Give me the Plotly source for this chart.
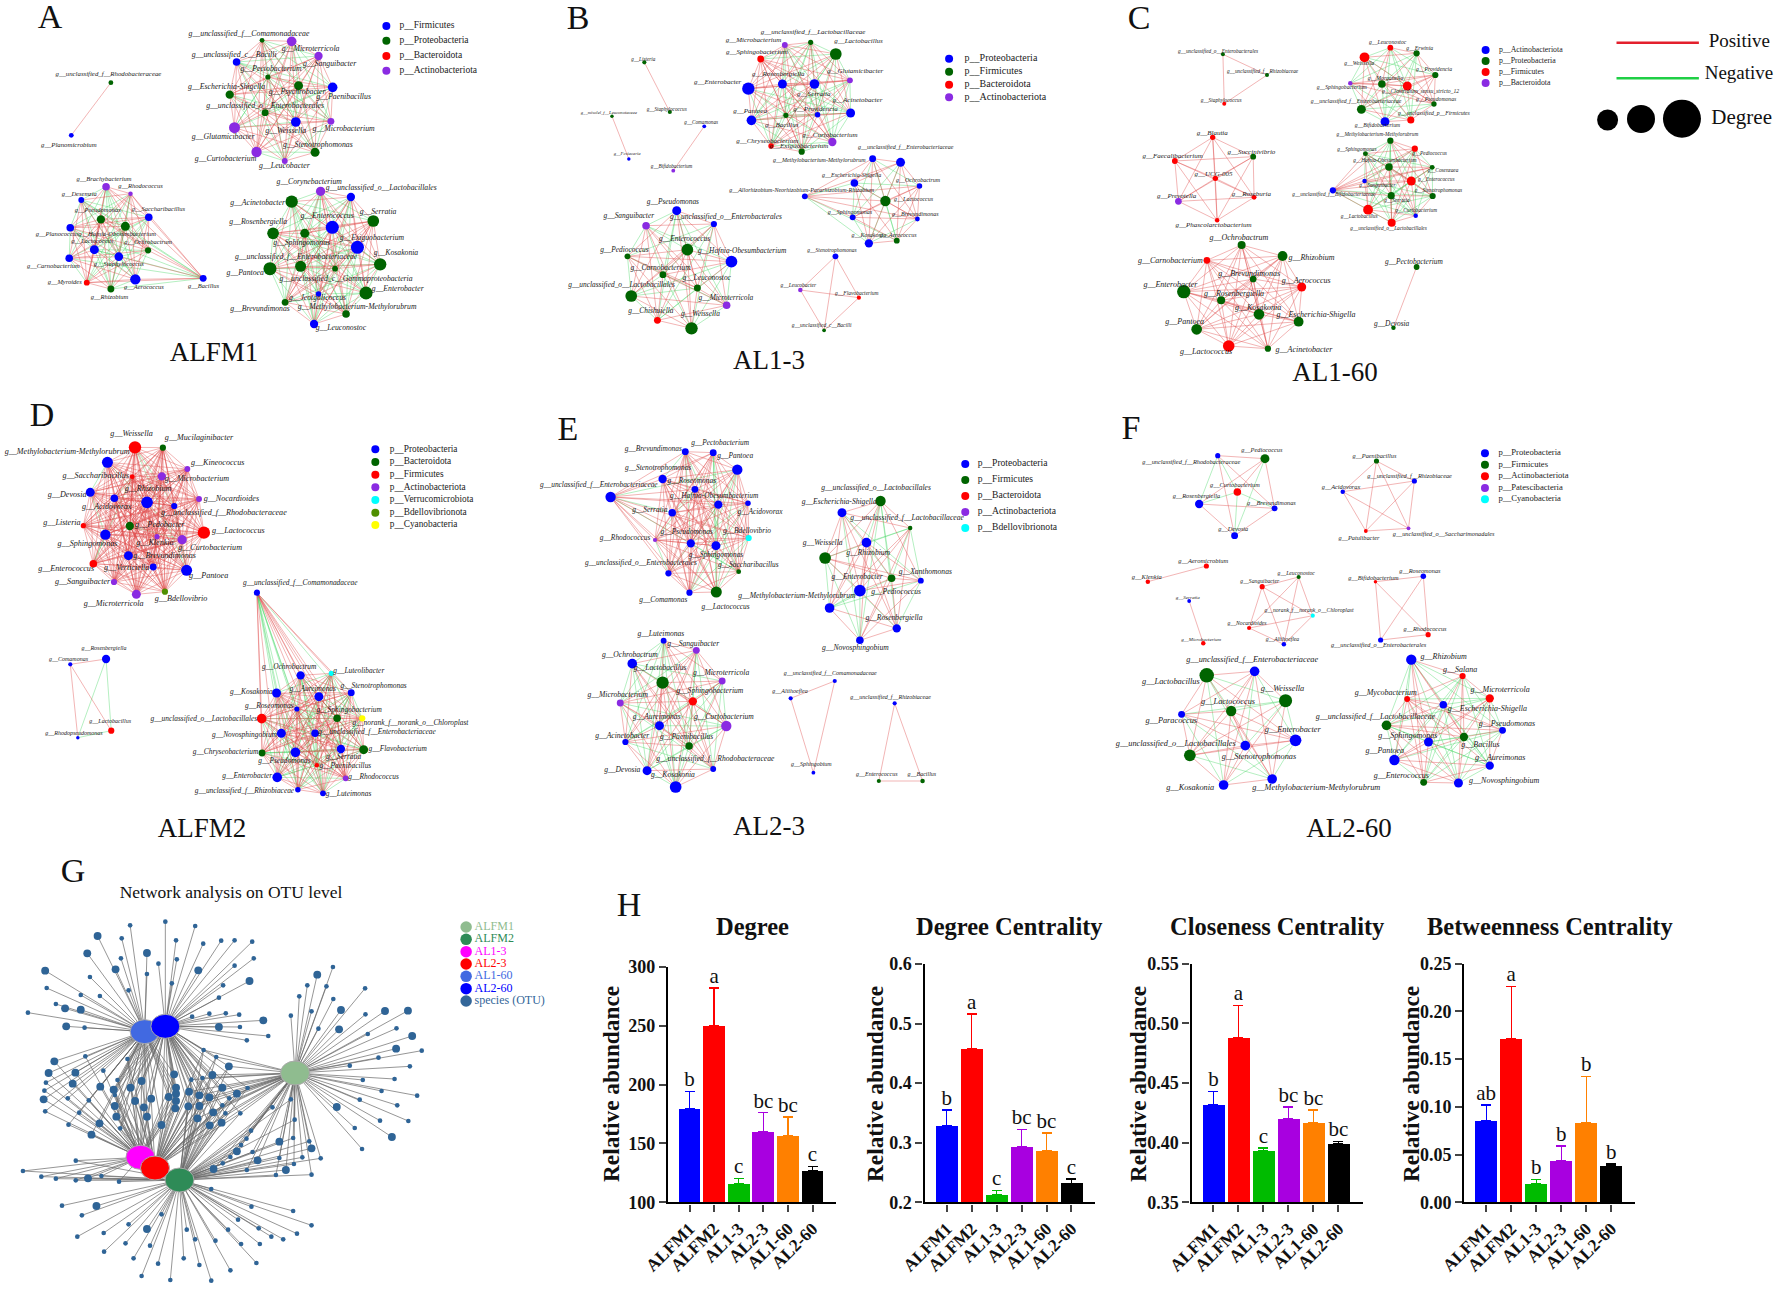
import plotly.graph_objects as go

W, H = 1778, 1292
SERIF = "Liberation Serif"
TONE = dict(b="#0000ff", g="#006400", r="#ff0000", p="#8a2be2", c="#00ffff", y="#ffff00", o="#4f8f00")

# ---- bar chart data ---------------------------------------------------
GROUPS = ["ALFM1", "ALFM2", "AL1-3", "AL2-3", "AL1-60", "AL2-60"]
BAR_COLOURS = ["#0000ff", "#ff0000", "#00bb00", "#a800e0", "#ff8000", "#000000"]
DEGREE = [179.5, 250, 116, 160, 156.5, 127]
DEGREE_TOP = [194, 282, 120, 176, 172.5, 130.5]
DEGREE_SIG = ["b", "a", "c", "bc", "bc", "c"]
DEG_CENT = [0.328, 0.457, 0.212, 0.293, 0.286, 0.232]
DEG_CENT_TOP = [0.355, 0.516, 0.22, 0.322, 0.316, 0.239]
DEG_CENT_SIG = ["b", "a", "c", "bc", "bc", "c"]
CLOSE = [0.432, 0.488, 0.393, 0.42, 0.417, 0.399]
CLOSE_TOP = [0.443, 0.515, 0.3955, 0.43, 0.4275, 0.401]
CLOSE_SIG = ["b", "a", "c", "bc", "bc", "bc"]
BETWEEN = [0.085, 0.171, 0.02, 0.044, 0.083, 0.038]
BETWEEN_TOP = [0.102, 0.226, 0.024, 0.059, 0.132, 0.04]
BETWEEN_SIG = ["ab", "a", "b", "b", "b", "b"]

# ---- network data: (genus, x, y, size, phylum, label x, label y) -------
A1 = [("unclassified_f__Rhodobacteraceae",322,248,14,"g",315,223),("Planomicrobium",207,406,14,"b",200,435)]
A2 = [("unclassified_f__Comamonadaceae",761,121,14,"g",723,102),("Microterricola",847,124,28,"p",902,146),
      ("unclassified_c__Bacilli",687,186,22,"b",680,164),("Sanguibacter",925,168,24,"p",957,192),
      ("Pectobacterium",778,231,15,"g",787,207),("Psychrobacter",867,257,26,"g",863,277),
      ("Paenibacillus",966,262,28,"b",998,290),("Escherichia-Shigella",667,284,24,"g",658,261),
      ("unclassified_o__Enterobacterales",770,338,20,"g",770,318),("Weissella",859,366,28,"b",830,393),
      ("Microbacterium",961,364,20,"p",998,386),("Glutamicibacter",681,383,32,"p",648,412),
      ("Curtobacterium",745,456,30,"p",655,476),("Leucobacter",827,483,17,"p",826,498),
      ("Stenotrophomonas",915,457,26,"g",923,434)]
A3 = [("Brachybacterium",308,560,22,"p",302,537),("Rhodococcus",379,581,13,"p",408,559),("Desemzia",236,600,17,"b",230,582),
      ("Pseudomonas",293,658,24,"g",284,631),("Saccharibacillus",432,652,22,"b",460,629),("Planococcus",204,683,22,"b",166,703),
      ("Hafnia-Obesumbacterium",364,679,26,"g",340,702),("Ochrobactrum",430,751,18,"g",430,728),("Lactococcus",274,749,26,"b",268,723),
      ("Carnobacterium",201,775,22,"b",155,798),("Staphylococcus",345,770,25,"b",345,793),("Myroides",252,848,17,"r",188,847),
      ("Rhizobium",322,867,20,"g",318,893),("Aerococcus",393,838,30,"b",418,861),("Bacillus",590,835,20,"b",591,858)]
A4 = [("Corynebacterium",931,574,27,"p",898,547),("unclassified_o__Lactobacillales",1019,591,24,"b",1107,565),
      ("Acinetobacter",847,605,36,"g",748,608),("Serratia",1084,663,34,"g",1098,635),("Enterococcus",965,682,38,"b",950,647),
      ("Rosenbergiella",793,700,34,"g",750,666),("Sphingomonas",885,700,26,"g",876,729),("Exiguobacterium",1038,742,38,"b",1080,713),
      ("Kosakonia",1104,793,36,"g",1150,760),("Pantoea",784,806,38,"g",712,818),("unclassified_f__Enterobacteriaceae",873,799,32,"g",860,770),
      ("unclassified_c__Gammaproteobacteria",973,806,17,"g",1005,836),("Enterobacter",1063,879,38,"g",1155,867),
      ("Jeotgalicoccus",925,882,16,"b",922,895),("Brevundimonas",828,907,20,"g",755,928),
      ("Methylobacterium-Methylorubrum",1005,942,22,"g",1037,920),("Leuconostoc",912,972,24,"b",990,985)]

B1a = [("Listeria",303,187,12,"g",300,178),("Staphylococcus",377,336,12,"g",368,328)]
B1b = [("misolel_f__Leuconotaceae",209,349,10,"g",200,340),("Fcsiacaria",258,477,10,"b",253,462)]
B1c = [("Comamonas",477,379,11,"b",468,369),("Bifidobacterium",387,512,11,"p",382,501)]
B2 = [("unclassified_f__Lactobacillaceae",786,127,15,"g",793,98),("Microbacterium",711,135,17,"p",620,121),
      ("Lactobacillus",859,162,34,"g",925,125),("Sphingobacterium",641,177,20,"r",630,158),("Glutamicibacter",900,241,17,"p",915,214),
      ("Rosenbergiella",704,252,26,"b",692,223),("Serratia",797,252,28,"b",795,284),("Enterobacter",605,266,36,"b",516,247),
      ("Acinetobacter",902,339,26,"b",922,302),("Pantoea",614,361,28,"b",610,335),("Bacillus",714,346,15,"g",702,376),
      ("Providencia",806,344,16,"b",800,328),("Curtobacterium",849,426,24,"p",842,405),("Chryseobacterium",671,438,16,"r",660,423),
      ("Exiguobacterium",760,455,18,"g",752,438)]
B3 = [("Methylobacterium-Methylorubrum",966,476,20,"b",811,481),("unclassified_f__Enterobacteriaceae",1047,487,26,"b",1062,442),
      ("Escherichia-Shigella",913,549,22,"b",905,527),("Ochrobactrum",1102,558,16,"b",1098,541),
      ("Allorhizobium-Neorhizobium-Pararhizobium-Rhizobium",769,589,17,"b",760,571),("Lactococcus",1003,603,30,"g",1085,597),
      ("Sphingomonas",908,652,17,"b",900,636),("Brevundimonas",1096,657,14,"b",1090,643),("Kosakonia",955,730,24,"b",955,706),
      ("Aerococcus",1036,722,17,"g",1040,706)]
B4 = [("Pseudomonas",397,632,26,"b",386,606),("unclassified_o__Enterobacterales",505,672,18,"b",540,652),("Sanguibacter",308,677,22,"p",258,649),
      ("Enterococcus",428,749,34,"g",420,716),("Hafnia-Obesumbacterium",556,785,34,"b",587,752),("Pediococcus",254,769,17,"g",245,751),
      ("Carnobacterium",357,824,20,"g",350,805),("Leuconostoc",457,864,20,"g",484,835),("unclassified_o__Lactobacillales",265,888,34,"g",237,854),
      ("Microterricola",542,916,22,"p",540,895),("Chishuiella",341,961,20,"r",322,934),("Weissella",440,985,36,"g",466,942)]
B5 = [("Stenotrophomonas",858,769,17,"b",848,752),("Leucobacter",756,870,13,"p",750,858),("Flavobacterium",926,893,12,"r",920,881),
      ("unclassified_c__Bacilli",825,991,11,"g",818,978)]

C1 = [("unclassified_o__Enterobacterales",321,163,9,"g",310,154),("unclassified_f__Rhizobiaceae",420,225,9,"g",410,216),
      ("Staphylococcus",324,311,9,"r",317,301)]
C2 = [("Leuconostoc",697,143,13,"r",691,129),("Erwinia",756,160,14,"g",763,146),("Weissella",639,172,22,"r",627,192),
      ("Providencia",798,225,14,"g",795,210),("Morganella",678,252,17,"g",686,236),("Clostridium_sensu_stricto_12",735,258,20,"r",765,276),
      ("Sphingobacterium",607,250,10,"p",588,263),("Pseudomonas",795,312,12,"g",800,300),("unclassified_f__Enterobacteriaceae",632,328,20,"g",620,304),
      ("unclassified_p__Firmicutes",743,360,16,"r",795,342),("Bifidobacterium",685,365,20,"b",668,378)]
C3 = [("Blautia",298,412,12,"r",297,399),("Faecalibacterium",213,483,13,"r",208,469),("Succinivibrio",389,470,13,"g",385,456),
      ("UCG-005",304,535,12,"r",300,522),("Prevotella",221,604,15,"p",217,588),("Roseburia",391,592,11,"r",385,582),
      ("Phascolarctobacterium",308,661,10,"r",300,676)]
C4 = [("Methylobacterium-Methylorubrum",697,422,14,"g",668,405),("Pediococcus",752,446,14,"r",785,460),("Sphingomonas",641,461,11,"g",622,449),
      ("Hafnia-Obesumbacterium",694,501,17,"g",685,483),("Cosenzaea",791,502,11,"g",815,512),("Enterococcus",744,543,20,"r",800,538),
      ("Sanguibacter",639,543,10,"b",668,556),("unclassified_f__Bifidobacteriaceae",568,571,14,"b",570,583),("Stenotrophomonas",792,588,14,"g",805,573),
      ("Serratia",699,587,16,"g",712,603),("Lactobacillus",647,629,22,"r",627,649),("Curtobacterium",754,647,10,"b",755,633),
      ("unclassified_o__Lactobacillales",700,668,18,"r",693,687)]
C5 = [("Ochrobactrum",363,735,18,"g",357,714),("Rhizobium",455,768,22,"g",520,774),("Carnobacterium",285,781,15,"r",203,784),
      ("Brevundimonas",389,837,15,"g",380,821),("Aerococcus",498,861,20,"r",508,843),("Enterobacter",233,875,30,"g",203,855),
      ("Rosenbergiella",317,901,18,"g",346,881),("Kosakonia",402,943,24,"g",400,923),("Escherichia-Shigella",491,965,22,"g",530,944),
      ("Pantoea",262,988,24,"g",235,967),("Lactococcus",334,1038,26,"r",283,1057),("Acinetobacter",422,1046,14,"g",503,1049)]
C6 = [("Pectobacterium",756,801,13,"g",750,787),("Devosia",704,983,10,"g",700,972)]

D1 = [("Weissella",392,172,36,"r",382,133),("Mucilaginibacter",473,173,18,"g",578,145),("Methylobacterium-Methylorubrum",312,217,32,"b",195,186),
      ("Kineococcus",544,237,17,"p",632,219),("Saccharibacillus",384,260,14,"r",278,258),("Microbacterium",470,259,24,"p",572,266),
      ("Devosia",262,307,26,"b",195,314),("Nocardioides",578,327,17,"p",672,327),("Acidovorax",332,325,22,"b",310,352),
      ("Rhizobium",427,337,34,"b",430,296),("unclassified_f__Rhodobacteraceae",506,348,18,"b",650,370),("Listeria",242,407,15,"r",180,400),
      ("Pedobacter",377,408,24,"g",464,405),("Lactococcus",592,428,36,"r",692,423),("Sphingomonas",306,434,30,"b",254,461),
      ("Klenkia",456,440,15,"p",450,460),("Curtobacterium",529,449,27,"p",610,475),("Brevundimonas",373,497,26,"b",478,498),
      ("Enterococcus",271,521,22,"r",192,537),("Verticiella",445,531,20,"b",368,533),("Pantoea",542,541,32,"b",606,559),
      ("Sanguibacter",331,576,18,"p",240,576),("Microterricola",396,613,26,"p",330,642),("Bdellovibrio",479,605,18,"o",526,626)]
D2 = [("Rosenbergiella",308,807,24,"b",302,776),("Comamonas",204,823,12,"b",199,807),("Lactobacillus",323,1022,18,"r",320,993),
      ("Rhodopseudomonas",226,1043,10,"b",215,1029)]
D3 = [("unclassified_f__Comamonadaceae",746,608,18,"b",872,579),("Ochrobactrum",873,856,24,"b",840,831),("Luteolibacter",962,850,15,"c",1042,842),
      ("Kosakonia",803,909,26,"b",730,907),("Stenotrophomonas",1020,908,20,"b",1085,888),("Aureimonas",926,920,26,"b",908,896),
      ("Roseomonas",862,957,15,"b",782,949),("unclassified_o__Lactobacillales",760,986,28,"r",592,986),("Sphingobacterium",979,985,22,"g",1014,961),
      ("norank_f__norank_o__Chloroplast",1052,985,18,"y",1192,1000),("Novosphingobium",817,1030,26,"b",710,1035),
      ("unclassified_f__Enterobacteriaceae",915,1030,22,"b",1095,1027),("Chryseobacterium",761,1089,20,"g",655,1086),
      ("Pseudomonas",858,1087,28,"b",826,1112),("Serratia",990,1077,24,"b",998,1100),("Flavobacterium",1056,1079,26,"g",1155,1077),
      ("Paenibacillus",920,1126,13,"r",1003,1127),("Rhodococcus",1004,1165,17,"p",1085,1161),("Enterobacter",805,1162,28,"b",718,1159),
      ("unclassified_f__Rhizobiaceae",865,1199,16,"b",710,1203),("Luteimonas",938,1210,17,"b",1012,1212)]

E1 = [("Brevundimonas",451,155,20,"b",358,148),("Pectobacterium",532,158,20,"b",552,130),("Pantoea",602,209,30,"b",596,168),
      ("Stenotrophomonas",385,237,24,"b",372,205),("Roseomonas",479,268,20,"b",470,243),("unclassified_f__Enterobacteriaceae",234,291,30,"b",200,254),
      ("Hafnia-Obesumbacterium",547,314,24,"b",535,288),("Acidovorax",633,310,16,"b",668,335),("Serratia",413,338,22,"b",348,331),
      ("Rhodococcus",363,420,12,"p",276,413),("Pseudomonas",467,430,24,"b",455,397),("Sphingomonas",540,437,26,"b",540,465),
      ("Bdellovibrio",635,414,18,"c",630,394),("Saccharibacillus",606,515,14,"g",634,495),("unclassified_o__Enterobacterales",402,520,18,"b",322,489),
      ("Comamonas",463,578,18,"b",387,601),("Lactococcus",541,576,32,"g",568,621)]
E2 = [("unclassified_o__Lactobacillales",1018,303,30,"g",1005,263),("Escherichia-Shigella",906,338,26,"b",898,305),
      ("unclassified_f__Lactobacillaceae",1104,384,13,"g",1095,354),("Rhizobium",977,428,28,"b",982,460),("Weissella",857,474,34,"g",850,429),
      ("Xanthomonas",1135,542,17,"b",1148,515),("Pediococcus",1050,535,22,"g",1063,575),("Enterobacter",958,572,34,"b",950,530),
      ("Methylobacterium-Methylorubrum",870,624,28,"b",775,589),("Rosenbergiella",1065,685,24,"b",1057,654),("Novosphingobium",958,721,22,"b",945,743)]
E3 = [("Luteimonas",388,722,17,"b",380,703),("Sanguibacter",483,751,20,"p",474,731),("Ochrobactrum",297,791,28,"b",290,766),
      ("Lactobacillus",385,848,36,"g",378,804),("Microterricola",558,843,20,"p",555,820),("Sphingobacterium",473,904,24,"r",522,872),
      ("Microbacterium",262,909,20,"p",255,886),("Aureimonas",376,977,26,"b",368,950),("Curtobacterium",570,978,30,"p",563,951),
      ("Acinetobacter",277,1026,18,"b",268,1007),("Paenibacillus",462,1038,22,"g",455,1012),("unclassified_f__Rhodobacteraceae",532,1107,17,"b",538,1076),
      ("Devosia",340,1112,26,"b",268,1110),("Kosakonia",423,1161,34,"b",415,1124)]
E4 = [("unclassified_f__Comamonadaceae",885,843,12,"b",872,821),("Aliihoeflea",757,895,12,"b",755,873),("Sphingobium",823,1118,11,"b",817,1094)]
E5 = [("unclassified_f__Rhizobiaceae",1059,910,12,"b",1047,892),("Enterococcus",1013,1143,12,"g",1007,1124),("Bacillus",1140,1143,13,"g",1138,1122)]

F1 = [("unclassified_f__Rhodobacteraceae",400,167,15,"b",323,188),("Pediococcus",537,176,26,"g",528,151),("Curtobacterium",457,276,22,"r",450,256),
      ("Rosenbergiella",346,312,24,"b",338,290),("Brevundimonas",565,325,17,"b",556,309),("Devosia",449,407,20,"b",445,388)]
F2 = [("Paenibacillus",861,183,15,"g",855,168),("unclassified_f__Rhizobiaceae",971,243,15,"b",957,228),("Acidovorax",763,275,13,"b",758,263),
      ("Patulibacter",830,393,11,"r",810,414),("unclassified_o__Saccharimonadales",954,385,11,"p",1056,404)]
F3 = [("Aeromicrobium",367,498,15,"r",358,483),("Klenkia",197,545,13,"r",194,532)]
F3b = [("Serratia",317,603,11,"b",313,594),("Microbacterium",358,730,13,"r",352,718)]
F4 = [("Leuconostoc",635,531,12,"g",628,521),("Sanguibacter",529,560,15,"r",522,544),("norank_f__norank_o__Chloroplast",676,647,12,"c",665,633),
      ("Nocardioides",491,684,12,"r",485,672),("Aliihoeflea",592,733,13,"b",588,719)]
F5 = [("Bifidobacterium",858,545,10,"r",852,534),("Roseomonas",997,529,16,"b",987,513),("Rhodococcus",1011,704,15,"r",1002,688),
      ("unclassified_o__Enterobacterales",873,720,15,"b",867,735)]
F6 = [("Lactobacillus",368,826,42,"g",264,846),("unclassified_f__Enterobacteriaceae",507,814,28,"b",500,781),("Weissella",597,902,38,"g",588,867),
      ("Lactococcus",439,933,30,"g",430,905),("Paracoccus",295,943,20,"b",265,963),("Enterobacter",626,1021,34,"b",618,991),
      ("Stenotrophomonas",480,1037,28,"b",520,1071),("unclassified_o__Lactobacillales",319,1066,34,"g",278,1033),
      ("Methylobacterium-Methylorubrum",558,1137,28,"b",686,1163),("Kosakonia",417,1155,28,"b",320,1163)]
F7 = [("Rhizobium",962,779,30,"b",1056,772),("Salana",1111,828,18,"r",1104,810),("Microterricola",1190,895,24,"r",1220,870),
      ("Mycobacterium",950,897,17,"r",888,880),("Escherichia-Shigella",1055,914,22,"b",1183,928),("unclassified_f__Lactobacillaceae",890,976,28,"g",858,952),
      ("Pseudomonas",1227,991,20,"b",1240,972),("Bacillus",1115,1011,24,"g",1163,1034),("Sphingomonas",1012,1026,26,"b",952,1009),
      ("Pantoea",913,1080,30,"b",885,1053),("Aureimonas",1190,1097,24,"b",1220,1074),("Enterococcus",998,1147,20,"g",933,1129),
      ("Novosphingobium",1099,1149,26,"b",1232,1143)]

# panel frame: x origin, y origin, x scale of the source crop
FRAME_A = (0, 0, 2.904)
FRAME_B = (540, 0, 2.904)
FRAME_C = (1080, 0, 2.246)
FRAME_D = (0, 390, 2.904)
FRAME_E = (530, 400, 2.904)
FRAME_F = (1080, 400, 2.904)
FRAME_G = (0, 850, 2.613)

# (frame, cluster, font size, share of negative edges out of 10)
CLUSTERS = [
    (FRAME_A, A1, 6.8, 0), (FRAME_A, A2, 7.8, 4), (FRAME_A, A3, 6.5, 5), (FRAME_A, A4, 7.7, 5),
    (FRAME_B, B1a, 5.2, 0), (FRAME_B, B1b, 4.6, 0), (FRAME_B, B1c, 5.2, 0), (FRAME_B, B2, 7, 5), (FRAME_B, B3, 6, 4),
    (FRAME_B, B4, 7.4, 5), (FRAME_B, B5, 5.5, 0),
    (FRAME_C, C1, 5.3, 0), (FRAME_C, C2, 5.7, 6), (FRAME_C, C3, 7, 0), (FRAME_C, C4, 5.3, 6), (FRAME_C, C5, 8, 0), (FRAME_C, C6, 7.4, 0),
    (FRAME_D, D1, 8.1, 1), (FRAME_D, D2, 6, 5), (FRAME_D, D3, 7.4, 4),
    (FRAME_E, E1, 7.4, 2), (FRAME_E, E2, 7.6, 4), (FRAME_E, E3, 7.6, 5), (FRAME_E, E4, 6, 0), (FRAME_E, E5, 6, 0),
    (FRAME_F, F1, 6.3, 5), (FRAME_F, F2, 6.3, 0), (FRAME_F, F3, 6.5, 0), (FRAME_F, F3b, 5, 0), (FRAME_F, F4, 5.7, 0), (FRAME_F, F5, 6.3, 0),
    (FRAME_F, F6, 8.3, 5), (FRAME_F, F7, 8, 6),
]

# phylum legends: frame, marker x, text x, font, names, colours, y positions
LEGENDS = [
    (FRAME_A, 1122, 1160, 9.5, ["p__Firmicutes","p__Proteobacteria","p__Bacteroidota","p__Actinobacteriota"], "bgrp", [78,122,168,212]),
    (FRAME_B, 1188, 1233, 10, ["p__Proteobacteria","p__Firmicutes","p__Bacteroidota","p__Actinobacteriota"], "bgrp", [176,215,254,292]),
    (FRAME_C, 911, 941, 7.8, ["p__Actinobacteriota","p__Proteobacteria","p__Firmicutes","p__Bacteroidota"], "bgrp", [150,183,216,249]),
    (FRAME_D, 1090, 1132, 9.3, ["p__Proteobacteria","p__Bacteroidota","p__Firmicutes","p__Actinobacteriota","p__Verrucomicrobiota","p__Bdellovibrionota","p__Cyanobacteria"], "bgrpcoy", [178,216,254,292,330,368,405]),
    (FRAME_E, 1264, 1300, 9.6, ["p__Proteobacteria","p__Firmicutes","p__Bacteroidota","p__Actinobacteriota","p__Bdellovibrionota"], "bgrpc", [192,240,288,336,384]),
    (FRAME_F, 1176, 1215, 8.6, ["p__Proteobacteria","p__Firmicutes","p__Actinobacteriota","p__Patescibacteria","p__Cyanobacteria"], "bgrpc", [160,194,229,264,298]),
]

PANEL_LETTERS = ["A","B","C","D","E","F","G","H"]
LETTER_X = [50, 578, 1139, 42, 568, 1131, 73, 629]
LETTER_Y = [19, 20, 20, 417, 431, 430, 873, 907]
GROUP_CAPTIONS = ["ALFM1","AL1-3","AL1-60","ALFM2","AL2-3","AL2-60"]
CAPTION_X = [214, 769, 1335, 202, 769, 1349]
CAPTION_Y = [354, 362, 374, 830, 828, 830]

# ---- OTU network (G) ---------------------------------------------------
HUB_NAMES = ["AL1-60","AL2-60","ALFM1","AL1-3","AL2-3","ALFM2"]
HUB_X = [378, 432, 771, 367, 405, 469]
HUB_Y = [545, 529, 669, 922, 954, 990]
HUB_COLOURS = ["#4169e1","#0000ff","#8fbc8f","#ff00ff","#ff0000","#2e8b57"]
OTU_SMALL = 13
OTU_BIG = 22
# (x, y, big?) by group, each group tied to its hubs
TOP_L = [(340,226,0),(255,258,1),(318,265,0),(228,310,1),(316,325,0),(302,358,1),(118,362,1),(235,381,0),(122,414,0),(336,421,0),(211,435,0),(261,438,0),(146,462,0),(170,475,1),(211,479,1),(73,488,0),(173,529,1),(221,533,0),(384,309,1),(384,372,0)]
TOP_R = [(432,215,0),(510,228,0),(460,271,0),(531,281,0),(578,272,0),(613,271,0),(659,275,0),(462,328,0),(663,325,0),(414,341,0),(613,347,0),(518,361,1),(652,393,1),(449,400,0),(583,406,0),(572,443,0),(502,500,0),(547,491,0),(590,490,0),(625,494,0),(688,511,1),(572,531,1),(627,531,0),(701,558,0),(645,571,0)]
MID_L = [(142,634,1),(223,619,0),(127,669,1),(197,668,1),(120,698,0),(190,701,1),(116,722,0),(114,748,1),(177,745,0),(118,784,0),(207,788,0),(179,824,0),(262,710,1),(232,751,0),(270,662,0),(239,854,1),(260,820,1)]
MID_C = [(333,627,0),(307,690,0),(370,693,1),(297,719,1),(341,713,1),(300,735,0),(353,753,1),(395,746,1),(300,768,1),(376,772,1),(304,800,1),(384,800,1),(314,835,0),(422,825,1),(455,673,1),(460,713,1),(460,731,1),(441,741,1),(460,753,1),(458,775,1)]
MID_R = [(500,689,0),(529,684,0),(555,675,1),(494,725,1),(521,736,1),(547,742,1),(492,769,1),(521,768,1),(516,805,1),(557,787,1),(548,826,1),(579,818,1),(581,713,1),(619,731,1),(599,745,0),(647,714,0),(581,766,0),(589,790,0),(628,790,0),(532,600,0),(565,621,0),(598,649,1)]
FM1_ONLY = [(870,351,0),(829,374,1),(803,406,0),(853,409,0),(954,415,0),(782,439,0),(871,447,0),(814,484,0),(891,480,1),(1006,483,1),(1066,482,1),(760,497,0),(955,493,0),(832,536,0),(886,538,1),(961,552,0),(1036,535,0),(1077,558,1),(1035,596,1),(1102,602,0),(989,623,0),(914,647,0),(1071,649,0),(948,690,0),(1031,687,0),(997,723,0),(1090,737,0),(940,749,0),(1038,766,0),(880,771,1),(993,812,0),(1067,813,0),(927,834,0),(1024,861,1),(946,897,0)]
FM_BOTH = [(760,748,0),(712,772,0),(770,809,0),(766,864,0),(730,875,1),(808,874,0),(814,895,1),(838,925,0),(790,922,0),(730,924,0),(768,942,0),(747,960,1),(721,975,0),(814,974,0),(673,931,1),(645,960,0),(558,957,1),(582,940,0),(602,921,0),(619,904,1),(660,906,0),(630,885,0),(644,866,0),(656,842,0)]
FM2_ONLY = [(552,1017,0),(657,1070,0),(766,1083,0),(622,1109,0),(814,1126,0),(676,1135,0),(596,1139,0),(776,1151,0),(709,1160,0),(740,1168,0),(488,1139,0),(510,1168,0),(563,1172,0),(630,1182,0),(679,1182,0),(670,1239,0),(602,1261,0),(521,1245,0),(552,1292,0),(480,1225,0),(445,1290,0),(413,1241,0),(370,1278,0),(349,1225,0),(392,1187,0),(328,1180,0),(272,1205,0),(271,1149,0),(202,1160,0),(336,1123,0),(384,1137,1),(422,1093,0),(214,1096,0),(252,1068,1),(162,1067,0)]
LOW_L = [(198,932,0),(60,963,0),(108,980,0),(146,986,0),(198,991,0),(230,985,1),(265,978,0),(311,995,0)]
OTU_GROUPS = [
    (TOP_L, ["AL1-60"]), (TOP_R, ["AL2-60"]), (MID_L, ["AL1-60","AL1-3"]), (MID_C, ["AL1-60","AL2-60","AL1-3","AL2-3"]),
    (MID_R, ["AL2-60","AL2-3","ALFM2","ALFM1"]), (FM1_ONLY, ["ALFM1"]), (FM_BOTH, ["ALFM1","ALFM2"]), (FM2_ONLY, ["ALFM2"]), (LOW_L, ["AL1-3","ALFM2"]),
]
G_LEG_NAMES = ["ALFM1","ALFM2","AL1-3","AL2-3","AL1-60","AL2-60","species (OTU)"]
G_LEG_COLOURS = ["#8fbc8f","#2e8b57","#ff00ff","#ff0000","#4169e1","#0000ff","#336699"]
G_LEG_Y = [231,268,305,342,379,416,453]

fig = go.Figure()

def fx(fr, v): return fr[0] + v / fr[2]
def fy(fr, v): return fr[1] + v / 3

def text_trace(xs, ys, txt, size, color="#1a1a1a", pos="middle center", family=SERIF):
    fig.add_trace(go.Scatter(x=xs, y=ys, text=txt, mode="text", textposition=pos, cliponaxis=False, showlegend=False, hoverinfo="skip",
                             textfont=dict(family=family, size=size, color=color)))

# edges first
red_x, red_y, green_x, green_y = [], [], [], []
for fr, cl, fs, neg in CLUSTERS:
    for i in range(len(cl)):
        for j in range(i + 1, len(cl)):
            ex, ey = (green_x, green_y) if (i * 3 + j * 7 + i * j) % 10 < neg else (red_x, red_y)
            ex += [fx(fr, cl[i][1]), fx(fr, cl[j][1]), None]
            ey += [fy(fr, cl[i][2]), fy(fr, cl[j][2]), None]
fig.add_trace(go.Scatter(x=green_x, y=green_y, mode="lines", line=dict(color="rgba(70,215,100,0.4)", width=1), showlegend=False, hoverinfo="skip"))
fig.add_trace(go.Scatter(x=red_x, y=red_y, mode="lines", line=dict(color="rgba(222,70,70,0.4)", width=1), showlegend=False, hoverinfo="skip"))

# nodes and labels
for fr, cl, fs, neg in CLUSTERS:
    fig.add_trace(go.Scatter(x=[fx(fr, n[1]) for n in cl], y=[fy(fr, n[2]) for n in cl], mode="markers", showlegend=False, hoverinfo="skip",
                             marker=dict(size=[n[3] / fr[2] for n in cl], color=[TONE[n[4]] for n in cl], opacity=1, line=dict(width=0))))
for fr, cl, fs, neg in CLUSTERS:
    text_trace([fx(fr, n[5]) for n in cl], [fy(fr, n[6]) for n in cl], [f"<i>g__{n[0]}</i>" for n in cl], fs)

# phylum legends
for fr, mx, tx, fs, names, tones, ys in LEGENDS:
    fig.add_trace(go.Scatter(x=[fx(fr, mx)] * len(ys), y=[fy(fr, v) for v in ys], mode="markers", showlegend=False, hoverinfo="skip",
                             marker=dict(size=8, color=[TONE[t] for t in tones], opacity=1, line=dict(width=0))))
    text_trace([fx(fr, tx)] * len(ys), [fy(fr, v) for v in ys], names, fs, pos="middle right")

# positive/negative/degree key
KEY_LINE_X = [1205, 1390]
KEY_COLOURS = ["#e3202c", "#1fcf45"]
KEY_LINE_Y = [128, 235]
KEY_TEXT = ["Positive", "Negative", "Degree"]
KEY_TEXT_X = [1412, 1403, 1418]
KEY_TEXT_Y = [128, 223, 355]
KEY_TEXT_SIZE = [19, 19, 21]
DEG_X = [1185, 1260, 1352]
DEG_Y = [360, 357, 356]
DEG_SIZE = [21, 28, 38]
for c, v in zip(KEY_COLOURS, KEY_LINE_Y):
    fig.add_trace(go.Scatter(x=[fx(FRAME_C, k) for k in KEY_LINE_X], y=[fy(FRAME_C, v)] * 2, mode="lines", line=dict(color=c, width=2.5), showlegend=False, hoverinfo="skip"))
fig.add_trace(go.Scatter(x=[fx(FRAME_C, k) for k in DEG_X], y=[fy(FRAME_C, k) for k in DEG_Y], mode="markers", marker=dict(size=DEG_SIZE, color="black", opacity=1, line=dict(width=0)), showlegend=False, hoverinfo="skip"))
for t, tx, ty, ts in zip(KEY_TEXT, KEY_TEXT_X, KEY_TEXT_Y, KEY_TEXT_SIZE):
    text_trace([fx(FRAME_C, tx)], [fy(FRAME_C, ty)], [t], ts, color="#111111", pos="middle right")

# OTU network
gx, gy = [], []
ox, oy, os_ = [], [], []
for nodes, hubs in OTU_GROUPS:
    for x, y, big in nodes:
        for h in hubs:
            k = HUB_NAMES.index(h)
            gx += [fx(FRAME_G, x), fx(FRAME_G, HUB_X[k]), None]
            gy += [fy(FRAME_G, y), fy(FRAME_G, HUB_Y[k]), None]
        ox.append(fx(FRAME_G, x)); oy.append(fy(FRAME_G, y))
        os_.append((OTU_BIG if big else OTU_SMALL) / 2.8)
fig.add_trace(go.Scatter(x=gx, y=gy, mode="lines", line=dict(color="rgba(105,105,105,0.7)", width=1), showlegend=False, hoverinfo="skip"))
fig.add_trace(go.Scatter(x=ox, y=oy, mode="markers", marker=dict(size=os_, color="#2f6496", opacity=1, line=dict(width=0)), showlegend=False, hoverinfo="skip"))
shapes = []
for k in range(len(HUB_NAMES)):
    cx, cy = fx(FRAME_G, HUB_X[k]), fy(FRAME_G, HUB_Y[k])
    shapes.append(dict(type="circle", xref="x", yref="y", x0=cx - 14.5, x1=cx + 14.5, y0=cy - 12, y1=cy + 12,
                       fillcolor=HUB_COLOURS[k], line=dict(color="#aaaaaa", width=1), layer="above"))
fig.add_trace(go.Scatter(x=[fx(FRAME_G, 1218)] * 7, y=[fy(FRAME_G, v) for v in G_LEG_Y], mode="markers", marker=dict(size=11.5, color=G_LEG_COLOURS, opacity=1, line=dict(width=0)), showlegend=False, hoverinfo="skip"))
for name, col, yy in zip(G_LEG_NAMES, G_LEG_COLOURS, G_LEG_Y):
    text_trace([fx(FRAME_G, 1240)], [fy(FRAME_G, yy)], [name], 12, color=col, pos="middle right")
text_trace([231], [894], ["Network analysis on OTU level"], 17.5, color="#111111")

# big letters and captions
text_trace(LETTER_X, LETTER_Y, PANEL_LETTERS, 34, color="#111111")
text_trace(CAPTION_X, CAPTION_Y, GROUP_CAPTIONS, 27, color="#111111")

# ---- bar panels --------------------------------------------------------
BAR_PANELS = [
    dict(title="Degree", vals=DEGREE, tops=DEGREE_TOP, sig=DEGREE_SIG, rng=[100, 300], ticks=[100,150,200,250,300], tt=["100","150","200","250","300"],
         xl=668, xr=836, first=689.5, step=24.6, yt=966.7, yb=1202.3, title_x=752, ylab_x=611),
    dict(title="Degree Centrality", vals=DEG_CENT, tops=DEG_CENT_TOP, sig=DEG_CENT_SIG, rng=[0.2, 0.6], ticks=[0.2,0.3,0.4,0.5,0.6], tt=["0.2","0.3","0.4","0.5","0.6"],
         xl=924.5, xr=1095, first=946.7, step=24.95, yt=964, yb=1202.3, title_x=1009, ylab_x=875),
    dict(title="Closeness Centrality", vals=CLOSE, tops=CLOSE_TOP, sig=CLOSE_SIG, rng=[0.35, 0.55], ticks=[0.35,0.4,0.45,0.5,0.55], tt=["0.35","0.40","0.45","0.50","0.55"],
         xl=1191.6, xr=1363, first=1213.4, step=25, yt=963.7, yb=1202.3, title_x=1277, ylab_x=1138),
    dict(title="Betweenness Centrality", vals=BETWEEN, tops=BETWEEN_TOP, sig=BETWEEN_SIG, rng=[0, 0.25], ticks=[0,0.05,0.1,0.15,0.2,0.25], tt=["0.00","0.05","0.10","0.15","0.20","0.25"],
         xl=1464.4, xr=1635, first=1486.2, step=25, yt=963.7, yb=1202.3, title_x=1550, ylab_x=1411),
]
layout_axes = {}
annos = []
for n, p in enumerate(BAR_PANELS, start=2):
    xname, yname = f"x{n}", f"y{n}"
    for i in range(6):
        fig.add_trace(go.Bar(x=[i], y=[p["vals"][i]], width=0.89, xaxis=xname, yaxis=yname, showlegend=False, hoverinfo="skip",
                             marker=dict(color=BAR_COLOURS[i], line=dict(width=0)),
                             error_y=dict(type="data", symmetric=False, array=[p["tops"][i] - p["vals"][i]], arrayminus=[0],
                                          color=BAR_COLOURS[i], thickness=1.4, width=5)))
    fig.add_trace(go.Scatter(x=list(range(6)), y=p["tops"], text=p["sig"], mode="text", textposition="top center", xaxis=xname, yaxis=yname, cliponaxis=False,
                             textfont=dict(family=SERIF, size=21, color="#111111"), showlegend=False, hoverinfo="skip"))
    layout_axes[f"xaxis{n}"] = dict(domain=[p["xl"] / W, p["xr"] / W], anchor=yname, range=[(p["xl"] - p["first"]) / p["step"], (p["xr"] - p["first"]) / p["step"]],
                                    tickmode="array", tickvals=list(range(6)), ticktext=GROUPS, tickangle=-45, ticks="outside", ticklen=7, tickwidth=2,
                                    showline=True, linewidth=2.4, linecolor="black", showgrid=False, zeroline=False,
                                    tickfont=dict(family=SERIF, size=17.5, color="#111111", weight="bold"))
    layout_axes[f"yaxis{n}"] = dict(domain=[1 - p["yb"] / H, 1 - p["yt"] / H], anchor=xname, range=p["rng"],
                                    tickmode="array", tickvals=p["ticks"], ticktext=p["tt"], ticks="outside", ticklen=7, tickwidth=2,
                                    showline=True, linewidth=2.4, linecolor="black", showgrid=False, zeroline=False,
                                    tickfont=dict(family=SERIF, size=18, color="#111111", weight="bold"))
    annos.append(dict(xref="x", yref="y", x=p["title_x"], y=926, text=f"<b>{p['title']}</b>", showarrow=False,
                      font=dict(family=SERIF, size=24.5, color="#111111")))
    annos.append(dict(xref="x", yref="y", x=p["ylab_x"], y=1084, text="<b>Relative abundance</b>", textangle=-90, showarrow=False,
                      font=dict(family=SERIF, size=23.3, color="#111111")))

fig.update_layout(width=W, height=H, margin=dict(l=0, r=0, t=0, b=0, pad=0, autoexpand=False), paper_bgcolor="white", plot_bgcolor="rgba(0,0,0,0)",
                  showlegend=False, bargap=0, barmode="overlay", shapes=shapes, annotations=annos,
                  xaxis=dict(domain=[0, 1], range=[0, W], autorange=False, visible=False, fixedrange=True),
                  yaxis=dict(domain=[0, 1], range=[H, 0], autorange=False, visible=False, fixedrange=True),
                  **layout_axes)
fig.write_html("out.html", config=dict(displayModeBar=False),
               post_script="document.body.style.margin='0';document.body.style.overflow='hidden';")
